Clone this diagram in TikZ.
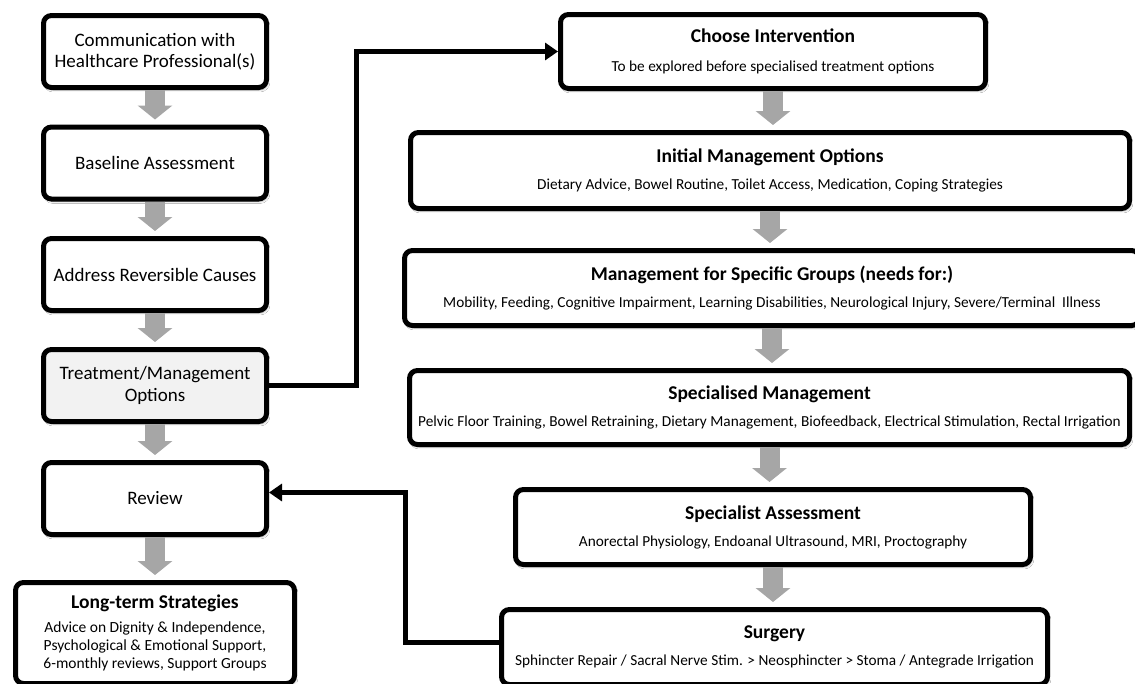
\documentclass[tikz,border=0pt]{standalone}
\usepackage{fontspec}
\setmainfont{Carlito}
\usetikzlibrary{arrows.meta,shadows.blur}
\definecolor{flowgray}{HTML}{A6A6A6}
\definecolor{lightfill}{HTML}{F2F2F2}

\begin{document}
\begin{tikzpicture}[x=1pt,y=-1pt]
	\tikzset{>={Triangle[width=17pt,length=13pt]},
		box/.style={draw,line width=5pt,rounded corners=8pt,fill=white,align=center,inner sep=1pt,
			blur shadow={shadow xshift=1.5pt,shadow yshift=-2.5pt,shadow blur steps=6,shadow opacity=30}},
		stage/.style={box,minimum width=223pt,minimum height=72pt,font=\fontsize{19}{21.5}\selectfont},
		option/.style={box,font=\fontsize{15.3}{18}\selectfont},
		flow/.style={line width=20pt,flowgray,-{Triangle[width=34pt,length=14pt]},shorten >=5pt},
		link/.style={line width=5pt,->}}
	\useasboundingbox[fill=white] (0,0) rectangle (1135,683);
	\clip (0,0) rectangle (1135,683);
	
	% left column
	\node[stage] (comm) at (155,51.5) {Communication with\\Healthcare Professional(s)};
	\node[stage] (base) at (155,163) {Baseline Assessment};
	\node[stage] (causes) at (155,274.5) {Address Reversible Causes};
	\node[stage,fill=lightfill] (treat) at (155,385.5) {Treatment/Management\\Options};
	\node[stage] (review) at (155,498.5) {Review};
	\node[box,minimum width=279pt,minimum height=101pt,font=\fontsize{15.5}{18}\selectfont] (longterm) at (155,633)
		{\textbf{\fontsize{19.5}{23}\selectfont Long-term Strategies}\\[6pt]
		Advice on Dignity \& Independence,\\Psychological \& Emotional Support,\\6-monthly reviews, Support Groups};
	
	% right column
	\node[option,minimum width=425pt,minimum height=74pt] (choose) at (773,51.5)
		{\textbf{\fontsize{19.5}{23}\selectfont Choose Intervention}\\[11pt]
		To be explored before specialised treatment options};
	\node[option,minimum width=719pt,minimum height=76pt] (initial) at (770,170.5)
		{\textbf{\fontsize{19.5}{23}\selectfont Initial Management Options}\\[9pt]
		Dietary Advice, Bowel Routine, Toilet Access, Medication, Coping Strategies};
	\node[option,minimum width=735pt,minimum height=75pt] (groups) at (772,288)
		{\textbf{\fontsize{19.5}{23}\selectfont Management for Specific Groups (needs for:)}\\[9pt]
		Mobility, Feeding, Cognitive Impairment, Learning Disabilities, Neurological Injury, Severe/Terminal\ \ Illness};
	\node[option,minimum width=720pt,minimum height=74pt] (special) at (769.5,407.5)
		{\textbf{\fontsize{19.5}{23}\selectfont Specialised Management}\\[9pt]
		Pelvic Floor Training, Bowel Retraining, Dietary Management, Biofeedback, Electrical Stimulation, Rectal Irrigation};
	\node[option,minimum width=515pt,minimum height=75pt] (assess) at (773,527)
		{\textbf{\fontsize{19.5}{23}\selectfont Specialist Assessment}\\[9pt]
		Anorectal Physiology, Endoanal Ultrasound, MRI, Proctography};
	\node[option,minimum width=546pt,minimum height=75pt] (surgery) at (774.5,647)
		{\textbf{\fontsize{19.5}{23}\selectfont Surgery}\\[9pt]
		Sphincter Repair / Sacral Nerve Stim. > Neosphincter > Stoma / Antegrade Irrigation};
	
	\foreach \a/\b in {comm/base,base/causes,causes/treat,treat/review,review/longterm}
	\draw[flow] (\a.south) -- (\b.north);
	\foreach \a/\b in {choose/initial,initial/groups,groups/special,special/assess,assess/surgery}
	\draw[flow] (\a.south) -- (\a.south |- \b.north);
	
	\draw[link] (treat.east) -- ++(87,0) |- (choose.west);
	\draw[link] ([yshift=5pt]surgery.west) -- ++(-94,0) |- ([yshift=6pt]review.east);
	
\end{tikzpicture}
\end{document}
